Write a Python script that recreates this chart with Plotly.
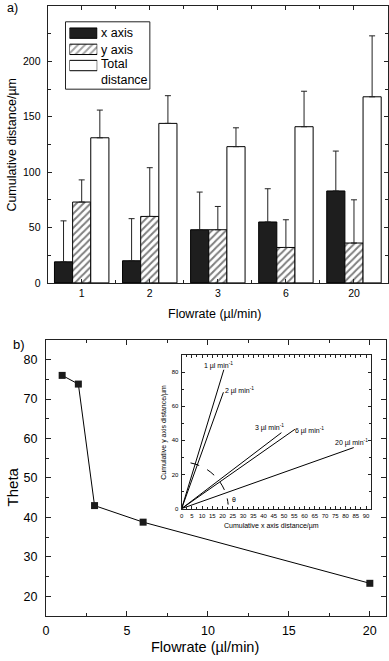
import math
import plotly.graph_objects as go

# ---------------- data ----------------
categories = ["1", "2", "3", "6", "20"]
x_axis_vals = [19, 20, 48, 55, 83]
x_axis_err = [37, 38, 34, 30, 36]
y_axis_vals = [73, 60, 48, 32, 36]
y_axis_err = [20, 44, 21, 25, 39]
total_vals = [131, 144, 123, 141, 168]
total_err = [25, 25, 17, 32, 55]

flowrate = [1, 2, 3, 6, 20]
theta = [76, 73.8, 43, 38.8, 23.3]

inset_labels = ["1 µl min<sup>-1</sup>", "2 µl min<sup>-1</sup>", "3 µl min<sup>-1</sup>",
                "6 µl min<sup>-1</sup>", "20 µl min<sup>-1</sup>"]
inset_x_end = [20.6, 20.4, 48.7, 55.3, 84.0]
inset_y_end = [81.4, 68.2, 44.5, 46.5, 35.8]
inset_label_x = [17.8, 28.3, 43.0, 62.5, 82.8]
inset_label_y = [84.0, 69.4, 47.8, 46.0, 38.7]

legend_names = ["x axis", "y axis", "Total<br>distance"]

# ---------------- helpers ----------------
W, H = 389, 661
FONT = "Liberation Sans, Arial, Helvetica, sans-serif"


def px(v):
    return v / W


def py(v):
    return 1 - v / H


pos = list(range(len(categories)))
DARK = "#1e1e1e"
HATCH = dict(shape="/", size=5, solidity=0.4, fgcolor="black", bgcolor="white")

fig = go.Figure()

# ---- panel a: grouped bars ----
fig.add_trace(go.Bar(
    x=pos, y=x_axis_vals, name="x axis", marker=dict(color=DARK, line=dict(color="black", width=1)),
    error_y=dict(type="data", symmetric=False, array=x_axis_err, arrayminus=[0] * 5,
                 color="#222", thickness=1, width=3),
    xaxis="x", yaxis="y", showlegend=False))
fig.add_trace(go.Bar(
    x=pos, y=y_axis_vals, name="y axis",
    marker=dict(color="white", pattern=HATCH, line=dict(color="black", width=1)),
    error_y=dict(type="data", symmetric=False, array=y_axis_err, arrayminus=[0] * 5,
                 color="#222", thickness=1, width=3),
    xaxis="x", yaxis="y", showlegend=False))
fig.add_trace(go.Bar(
    x=pos, y=total_vals, name="Total distance",
    marker=dict(color="white", line=dict(color="black", width=1)),
    error_y=dict(type="data", symmetric=False, array=total_err, arrayminus=[0] * 5,
                 color="#222", thickness=1, width=3),
    xaxis="x", yaxis="y", showlegend=False))

# ---- custom legend swatches (hidden axis) ----
fig.add_trace(go.Bar(
    x=[1, 1, 1], y=[0, 1, 2], orientation="h", width=0.64,
    marker=dict(color=[DARK, "white", "white"],
                pattern=dict(shape=["", "/", ""], size=5, solidity=0.4,
                             fgcolor="black", bgcolor="white"),
                line=dict(color="black", width=1)),
    xaxis="x4", yaxis="y4", showlegend=False, hoverinfo="skip"))

# ---- panel b: theta vs flowrate ----
fig.add_trace(go.Scatter(
    x=flowrate, y=theta, mode="lines+markers",
    line=dict(color="black", width=1),
    marker=dict(symbol="square", size=7, color="#1a1a1a"),
    xaxis="x2", yaxis="y2", showlegend=False))

# ---- inset lines ----
for ex, ey in zip(inset_x_end, inset_y_end):
    fig.add_trace(go.Scatter(
        x=[0, ex], y=[0, ey], mode="lines", line=dict(color="black", width=1),
        xaxis="x3", yaxis="y3", showlegend=False))

# ---------------- layout ----------------
tickfont_a = dict(family=FONT, size=10.5, color="black")
tickfont_b = dict(family=FONT, size=12.5, color="black")
tickfont_i = dict(family=FONT, size=6, color="black")

common = dict(showgrid=False, zeroline=False, showline=True, linecolor="#222", linewidth=1,
              ticks="inside", mirror="allticks", tickcolor="#222")

layout = dict(
    width=W, height=H, margin=dict(l=0, r=0, t=0, b=0),
    paper_bgcolor="white", plot_bgcolor="white",
    barmode="group", bargap=0.2, bargroupgap=0,
    font=dict(family=FONT, color="black"),
    xaxis=dict(domain=[px(45), px(388)], anchor="y", range=[-0.5, 4.5],
               tickvals=pos, ticktext=categories, ticklen=4, tickfont=tickfont_a,
               minor=dict(tickvals=[p + 0.5 for p in pos[:-1]], ticklen=3, ticks="inside",
                          tickcolor="#222"),
               **common),
    yaxis=dict(domain=[py(285.5), py(6)], anchor="x", range=[0, 250], dtick=50, ticklen=4,
               tickfont=tickfont_a, ticklabelstandoff=4,
               minor=dict(dtick=25, ticklen=3, ticks="inside", tickcolor="#222"), **common),
    xaxis2=dict(domain=[px(43.3), px(386)], anchor="y2", range=[0, 21], dtick=5, ticklen=5,
                tickfont=tickfont_b, ticklabelstandoff=3,
                minor=dict(dtick=2.5, ticklen=3, ticks="inside", tickcolor="#222"), **common),
    yaxis2=dict(domain=[py(621.7), py(343)], anchor="x2", range=[15, 85], dtick=10, tick0=0,
                ticklen=5, tickfont=tickfont_b, ticklabelstandoff=5,
                minor=dict(dtick=5, ticklen=3, ticks="inside", tickcolor="#222"), **common),
    xaxis3=dict(domain=[px(180), px(371)], anchor="y3", range=[0, 92.5], dtick=5, ticklen=3,
                tickfont=tickfont_i, ticklabelstandoff=1,
                minor=dict(dtick=2.5, ticklen=2, ticks="inside", tickcolor="#222"), **common),
    yaxis3=dict(domain=[py(513.3), py(358.3)], anchor="x3", range=[0, 90], dtick=20, ticklen=3,
                tickfont=tickfont_i, ticklabelstandoff=1,
                minor=dict(dtick=10, ticklen=2, ticks="inside", tickcolor="#222"), **common),
    xaxis4=dict(domain=[px(67), px(95)], anchor="y4", range=[0, 1], visible=False, fixedrange=True),
    yaxis4=dict(domain=[py(74.3), py(25.3)], anchor="x4", range=[2.5, -0.5], visible=False,
                fixedrange=True),
)

# dashed arc in inset (cubic Bezier approximating an ellipse arc)
rx, ry = 22.8, 27.3
a0, a1 = math.radians(79), math.radians(5)
k = 4 / 3 * math.tan((a0 - a1) / 4)
P0 = (rx * math.cos(a0), ry * math.sin(a0))
P3 = (rx * math.cos(a1), ry * math.sin(a1))
P1 = (P0[0] + k * rx * math.sin(a0), P0[1] - k * ry * math.cos(a0))
P2 = (P3[0] - k * rx * math.sin(a1), P3[1] + k * ry * math.cos(a1))
arc_path = "M {:.3f},{:.3f} C {:.3f},{:.3f} {:.3f},{:.3f} {:.3f},{:.3f}".format(
    *P0, *P1, *P2, *P3)

shapes = [
    dict(type="rect", xref="paper", yref="paper", x0=px(63), x1=px(148), y0=py(90), y1=py(22),
         line=dict(color="#222", width=1), fillcolor="rgba(0,0,0,0)"),
    dict(type="path", xref="x3", yref="y3", path=arc_path,
         line=dict(color="black", width=1, dash="dash")),
]

annotations = []
# legend texts
for name, yc in zip(legend_names, [33, 50, 73]):
    annotations.append(dict(text=name, xref="paper", yref="paper", x=px(97), y=py(yc),
                            xanchor="left", yanchor="middle", showarrow=False, align="left",
                            font=dict(family=FONT, size=12.5, color="black")))
# panel labels and titles
annotations += [
    dict(text="a)", xref="paper", yref="paper", x=px(2), y=py(8), xanchor="left", yanchor="middle",
         showarrow=False, font=dict(family=FONT, size=12.5, color="black")),
    dict(text="b)", xref="paper", yref="paper", x=px(8), y=py(348), xanchor="left",
         yanchor="middle", showarrow=False, font=dict(family=FONT, size=13, color="black")),
    dict(text="Flowrate (µl/min)", xref="paper", yref="paper", x=px(213), y=py(317),
         xanchor="center", yanchor="middle", showarrow=False,
         font=dict(family=FONT, size=12.5, color="black")),
    dict(text="Cumulative distance/µm", xref="paper", yref="paper", x=px(9), y=py(146),
         xanchor="center", yanchor="middle", textangle=-90, showarrow=False,
         font=dict(family=FONT, size=12.5, color="black")),
    dict(text="Flowrate (µl/min)", xref="paper", yref="paper", x=px(204), y=py(652.5),
         xanchor="center", yanchor="middle", showarrow=False,
         font=dict(family=FONT, size=14.5, color="black")),
    dict(text="Theta", xref="paper", yref="paper", x=px(10), y=py(491), xanchor="center",
         yanchor="middle", textangle=-90, showarrow=False,
         font=dict(family=FONT, size=15, color="black")),
    dict(text="Cumulative x axis distance/µm", xref="paper", yref="paper", x=px(271), y=py(531),
         xanchor="center", yanchor="middle", showarrow=False,
         font=dict(family=FONT, size=7, color="black")),
    dict(text="Cumulative y axis distance/µm", xref="paper", yref="paper", x=px(162), y=py(436),
         xanchor="center", yanchor="middle", textangle=-90, showarrow=False,
         font=dict(family=FONT, size=7, color="black")),
    dict(text="θ", xref="x3", yref="y3", x=25.7, y=5.4, xanchor="center", yanchor="middle",
         showarrow=False, font=dict(family=FONT, size=7, color="black")),
]
for lab, lx, ly in zip(inset_labels, inset_label_x, inset_label_y):
    annotations.append(dict(text=lab, xref="x3", yref="y3", x=lx, y=ly, xanchor="center",
                            yanchor="middle", showarrow=False,
                            font=dict(family=FONT, size=7, color="black")))

layout["shapes"] = shapes
layout["annotations"] = annotations
fig.update_layout(**layout)

fig.write_html(
    "out.html",
    config={"displayModeBar": False},
    post_script="document.body.style.margin='0';document.body.style.padding='0';"
                "document.body.style.overflow='hidden';",
)
